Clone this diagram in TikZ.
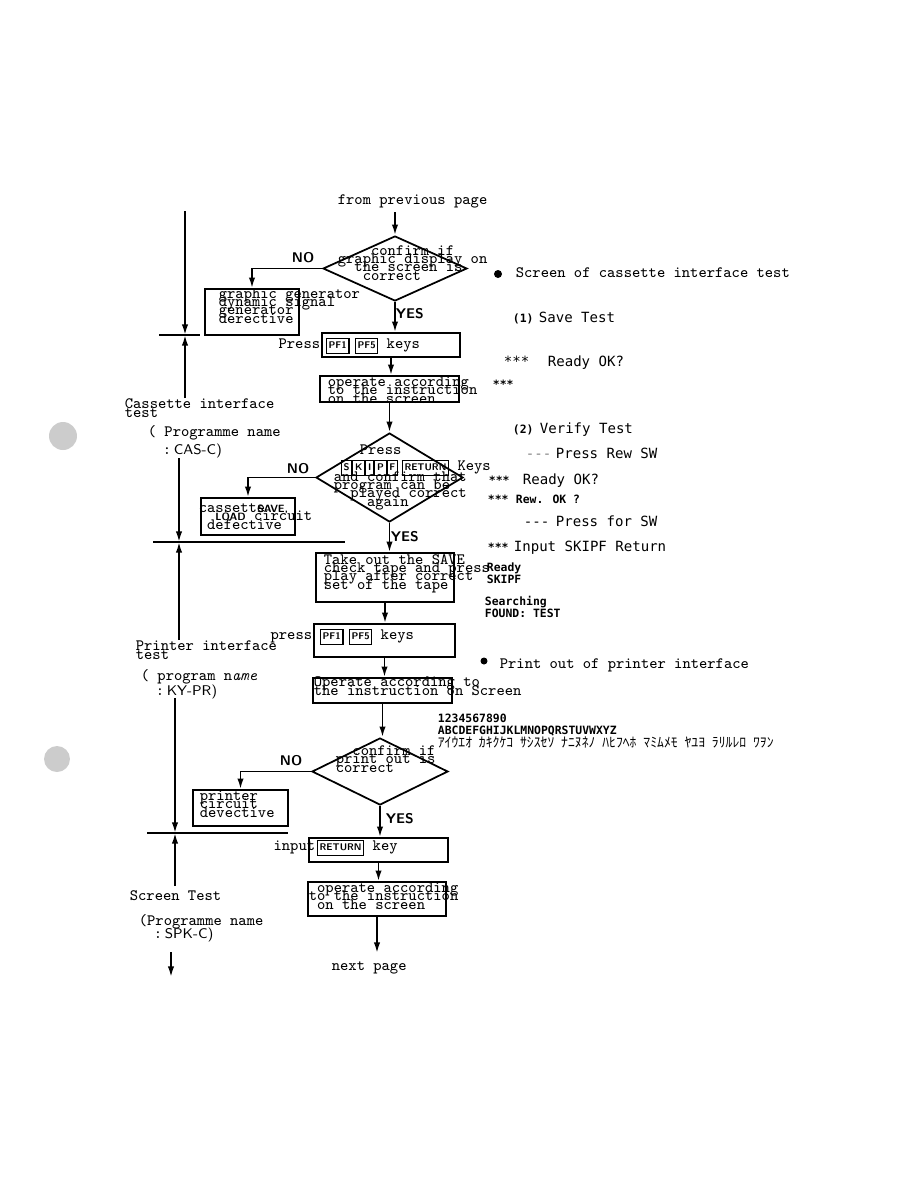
\documentclass[tikz,border=0pt]{standalone}
\usepackage{fontspec}
\usepackage{tikz}
\usetikzlibrary{shapes, arrows.meta, positioning, calc}
\newfontfamily\scrfont{DejaVu Sans Mono}
\newfontfamily\jpfont{Noto Sans CJK JP}
\newcommand{\keycap}[1]{{\setlength{\fboxsep}{1pt}\setlength{\fboxrule}{0.6pt}%
  \fbox{\sffamily\bfseries\fontsize{5.5}{5.5}\selectfont\strut #1}}}
\newcommand{\ksp}{\hspace{0.5em}}
\newcommand{\tightlines}{\setlength{\lineskiplimit}{-100pt}}

\begin{document}
\begin{tikzpicture}[x=0.02cm, y=-0.02cm, >={Latex[length=6pt,width=3.6pt]}, line width=1pt,
    box/.style={draw, inner sep=0pt},
    dia/.style={draw, diamond, inner sep=0pt},
    txt/.style={font=\ttfamily\fontsize{9}{4.6}\selectfont\tightlines, inner sep=0pt, align=left, anchor=base west},
    lbl/.style={font=\ttfamily\fontsize{9}{10}\selectfont, inner sep=0pt, anchor=base west},
    yn/.style={font=\sffamily\bfseries\fontsize{8}{8}\selectfont, inner sep=0pt, anchor=base west},
    scr/.style={font=\scrfont\fontsize{8}{9}\selectfont, inner sep=0pt, anchor=base west},
    dot/.style={font=\scrfont\bfseries\fontsize{6.5}{6.8}\selectfont\tightlines, inner sep=0pt, anchor=base west, align=left},
]
    \useasboundingbox (0,0) rectangle (918,1188);

    % Punch holes
    \fill[gray!40] (63,436) circle[radius=0.28cm];
    \fill[gray!40] (57,759) circle[radius=0.26cm];

    % Cassette interface test (multi-line texts sit on their last baseline)
    \node[lbl] (prev) at (337,204) {from previous page};
    \coordinate (in1) at (395,212);
    \node[dia, minimum width=2.88cm, minimum height=1.3cm] (d1) at (395,268.5) {};
    \node[txt] (d1t) at (337,280) {\hphantom{xxxx}confirm if\\graphic display on\\\hphantom{xx}the screen is\\\hphantom{xxx}correct};
    \draw[->] (in1) -- (d1.north);

    \node[box, minimum width=1.88cm, minimum height=0.92cm] (gen) at (252,312) {};
    \node[txt] (gent) at (218,323) {graphic generator\\dynamic signal\\generator\\derective};
    \draw[->] (d1.west) -| (gen.north);
    \node[yn] (no1) at (291,262) {NO};
    \node[yn] (yes1) at (395,318) {YES};

    \node[box, minimum width=2.76cm, minimum height=0.48cm] (pf1) at (391,345) {};
    \node[lbl, anchor=base east] (pf1a) at (321,348) {Press};
    \node[lbl] (pf1t) at (325,348) {\keycap{PF1}\hspace{3pt}\keycap{PF5} keys};
    \draw[->] (d1.south) -- (d1.south |- pf1.north);

    \node[box, minimum width=2.78cm, minimum height=0.52cm] (op1) at (389.5,389) {};
    \node[txt] (op1t) at (327,403) {operate according\\to the instruction\\on the screen};
    \draw[->] (pf1.south) -- (pf1.south |- op1.north);

    \node[dia, minimum width=2.94cm, minimum height=1.78cm] (d2) at (389.5,477.5) {};
    \node[lbl] (d2a) at (359,454) {Press};
    \node[lbl] (d2b) at (340,470) {\keycap{S}\keycap{K}\keycap{I}\keycap{P}\keycap{F}\hspace{2pt}\keycap{RETURN} Keys};
    \node[txt] (d2t) at (333,506) {and confirm that\\program can be\\\hphantom{xx}played correct\\\hphantom{xxxx}again};
    \draw[->] (op1.south) -- (op1.south |- d2.north);

    \node[box, minimum width=1.88cm, minimum height=0.74cm] (cas) at (248,516.5) {};
    \node[txt] (cast) at (198,529) {cassette\hspace{-0.5em}{\sffamily\bfseries\fontsize{6}{6}\selectfont SAVE,}\\\hphantom{xx}{\sffamily\bfseries\fontsize{6}{6}\selectfont LOAD} circuit\\\hphantom{x}defective};
    \draw[->] (d2.west) -| (cas.north);
    \node[yn] (no2) at (286,473) {NO};
    \node[yn] (yes2) at (390,541) {YES};

    \node[box, minimum width=2.76cm, minimum height=0.98cm] (take) at (385,577.5) {};
    \node[txt] (taket) at (323,589) {Take out the SAVE\\check tape and press\\play after correct\\set of the tape};
    \draw[->] (d2.south) -- (d2.south |- take.north);

    % Printer interface test
    \node[box, minimum width=2.82cm, minimum height=0.66cm] (pf2) at (384.5,640.5) {};
    \node[lbl, anchor=base east] (pf2a) at (313,639) {press};
    \node[lbl] (pf2t) at (319,639) {\keycap{PF1}\hspace{3pt}\keycap{PF5} keys};
    \draw[->] (take.south) -- (take.south |- pf2.north);

    \node[box, minimum width=2.78cm, minimum height=0.5cm] (op2) at (382.5,690.5) {};
    \node[txt] (op2t) at (313,695) {Operate according to\\the instruction on Screen};
    \draw[->] (pf2.south) -- (pf2.south |- op2.north);

    \node[dia, minimum width=2.72cm, minimum height=1.34cm] (d3) at (380,771.5) {};
    \node[txt] (d3t) at (335,772) {\hphantom{xx}confirm if\\print out is\\correct};
    \draw[->] (op2.south) -- (op2.south |- d3.north);

    \node[box, minimum width=1.9cm, minimum height=0.72cm] (prt) at (240.5,808) {};
    \node[txt] (prtt) at (199,817) {printer\\circuit\\devective};
    \draw[->] (d3.west) -| (prt.north);
    \node[yn] (no3) at (279,765) {NO};
    \node[yn] (yes3) at (385,823) {YES};

    % Screen test
    \node[box, minimum width=2.78cm, minimum height=0.48cm] (ret) at (378.5,850) {};
    \node[lbl, anchor=base east] (reta) at (316,850) {input};
    \node[lbl] (rett) at (316,850) {\keycap{RETURN} key};
    \draw[->] (d3.south) -- (d3.south |- ret.north);

    \node[box, minimum width=2.76cm, minimum height=0.68cm] (op3) at (377,899) {};
    \node[txt] (op3t) at (308,909) {\hphantom{x}operate according\\to the instruction\\\hphantom{x}on the screen};
    \draw[->] (ret.south) -- (ret.south |- op3.north);

    \coordinate (out3) at (377,953);
    \node[lbl] (next) at (331,970) {next page};
    \draw[->] (op3.south) -- (out3);

    % Left side: test sections
    \coordinate (top1) at (185,211);
    \coordinate (sep1) at (185,335);
    \coordinate (up1) at (185,398);
    \draw[->] (top1) -- (sep1);
    \draw[->] (up1) -- (sep1);
    \draw (159,335) -- (200,335);
    \node[txt] (cass) at (124,417) {Cassette interface\\test};
    \node[lbl] (cassn) at (147,436) {( Programme name};
    \node[lbl] (cassc) at (162,454) {:\,{\sffamily\fontsize{8}{8}\selectfont CAS-C)}};

    \coordinate (dn2) at (179,458);
    \coordinate (sep2) at (179,542);
    \coordinate (up2) at (179,640);
    \draw[->] (dn2) -- (sep2);
    \draw[->] (up2) -- (sep2);
    \draw (153,542) -- (345,542);
    \node[txt] (prn) at (135,659) {Printer interface\\test};
    \node[lbl] (prnn) at (140,680) {( program n{\itshape ame}};
    \node[lbl] (prnc) at (155,695) {:\,{\sffamily\fontsize{8}{8}\selectfont KY-PR)}};

    \coordinate (dn3) at (175,698);
    \coordinate (sep3) at (175,833);
    \coordinate (up3) at (175,886);
    \draw[->] (dn3) -- (sep3);
    \draw[->] (up3) -- (sep3);
    \draw (147,833) -- (288,833);
    \node[lbl] (scn) at (129,900) {Screen Test};
    \node[lbl] (scnn) at (138,925) {(Programme name};
    \node[lbl] (scnc) at (153,938) {:\,{\sffamily\fontsize{8}{8}\selectfont SPK-C)}};

    \coordinate (dn4) at (171,952);
    \coordinate (end4) at (171,977);
    \draw[->] (dn4) -- (end4);

    % Right side: screen of cassette interface test
    \node[circle, fill, inner sep=0pt, minimum size=0.16cm] (bul1) at (498,274) {};
    \node[lbl] (scr0) at (515,277) {Screen of cassette interface test};
    \node[dot] (n1) at (512,322) {(1)};
    \node[scr] (scr1) at (538,322) {Save Test};
    \node[scr] (st1) at (503,366) {***};
    \node[scr] (scr2) at (547,366) {Ready OK?};
    \node[dot] (st2) at (492,388) {***};
    \node[dot] (n2) at (512,433) {(2)};
    \node[scr] (scr3) at (539,433) {Verify Test};
    \node[scr, gray] (ds1) at (525,458) {---};
    \node[scr] (scr4) at (555,458) {Press Rew SW};
    \node[dot] (st3) at (488,484) {***};
    \node[scr] (scr5) at (522,484) {Ready OK?};
    \node[dot] (st4) at (487,503) {***};
    \node[dot] (scr6) at (515,503) {Rew. OK ?};
    \node[scr] (ds2) at (523,526) {---};
    \node[scr] (scr7) at (555,526) {Press for SW};
    \node[dot] (st5) at (487,551) {***};
    \node[scr] (scr8) at (513,551) {Input SKIPF Return};
    \node[dot] (scr9) at (486,583) {Ready\\SKIPF};
    \node[dot] (scr10) at (484,617) {Searching\\FOUND: TEST};

    % Right side: print out of printer interface
    \node[circle, fill, inner sep=0pt, minimum size=0.14cm] (bul2) at (484,661) {};
    \node[lbl] (pr0) at (499,668) {Print out of printer interface};
    \node[dot] (pr1) at (437,722) {1234567890};
    \node[dot] (pr2) at (437,734) {ABCDEFGHIJKLMNOPQRSTUVWXYZ};
    \node[font=\jpfont\fontsize{7.8}{9}\selectfont, inner sep=0pt, anchor=base west] (pr3) at (437,747) {ｱｲｳｴｵ\ksp ｶｷｸｹｺ\ksp ｻｼｽｾｿ\ksp ﾅﾆﾇﾈﾉ\ksp ﾊﾋﾌﾍﾎ\ksp ﾏﾐﾑﾒﾓ\ksp ﾔﾕﾖ\ksp ﾗﾘﾙﾚﾛ\ksp ﾜｦﾝ};
\end{tikzpicture}
\end{document}
